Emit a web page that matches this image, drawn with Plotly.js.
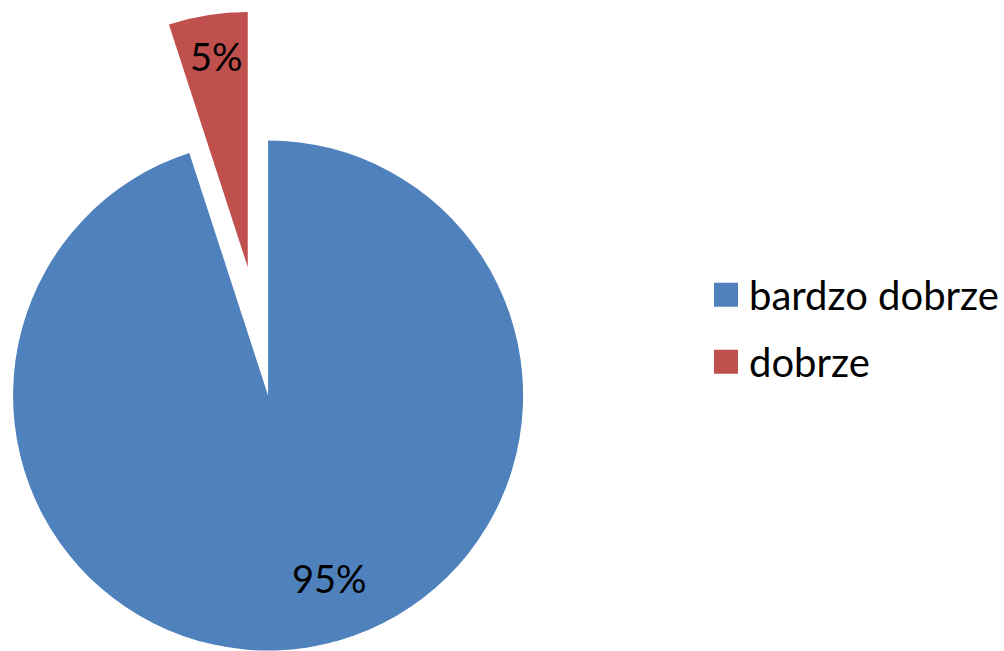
<!DOCTYPE html>
<html>
<head>
<meta charset="utf-8">
<script src="https://cdn.plot.ly/plotly-3.0.1.min.js"></script>
<style>
  html, body { margin: 0; padding: 0; background: #ffffff; overflow: hidden; width: 1004px; height: 651px; }
  #chart { position: absolute; left: -117px; top: 8px; }
</style>
</head>
<body>
<div id="chart"></div>
<script>
// Data
const categories = ["bardzo dobrze", "dobrze"];
const values = [95, 5];
const colors = ["#4F81BD", "#C0504D"];
const pulls = [0, 0.51];

const FIG_W = 1121, FIG_H = 775;
const FONT = "Lato, 'Open Sans', sans-serif";

const total = values.reduce((a, b) => a + b, 0);
const pctText = values.map(v => Math.round(v / total * 100) + "%");

const trace = {
  type: "pie",
  labels: categories,
  values: values,
  sort: false,
  direction: "clockwise",
  rotation: 0,
  pull: pulls,
  marker: { colors: colors, line: { width: 0 } },
  textinfo: "none",
  domain: { x: [0, FIG_H / FIG_W], y: [0, 1] },
  hoverinfo: "label+percent"
};

// label anchor points (paper coords) for each slice's percentage
const labelX = [0.4005, 0.2990];
const labelY = [0.2645, 0.9385];

const layout = {
  width: FIG_W,
  height: FIG_H,
  margin: { l: 0, r: 0, t: 0, b: 0, pad: 0 },
  paper_bgcolor: "#ffffff",
  showlegend: true,
  legend: {
    x: 0.7415, y: 0.5945, xanchor: "left", yanchor: "middle",
    font: { family: FONT, size: 40, color: "#000000" },
    bgcolor: "rgba(0,0,0,0)"
  },
  annotations: pctText.map((t, i) => ({
    xref: "paper", yref: "paper", x: labelX[i], y: labelY[i],
    xanchor: "center", yanchor: "middle", showarrow: false,
    text: t, font: { family: FONT, size: 38, color: "#000000" }
  }))
};

Plotly.newPlot("chart", [trace], layout, { displayModeBar: false, staticPlot: true }).then(gd => {
  const re = /translate\(\s*([-\d.e]+)[ ,]\s*([-\d.e]+)\s*\)/;
  gd.querySelectorAll(".legend .traces").forEach((g, i) => {
    const m = re.exec(g.getAttribute("transform") || "");
    if (m && i > 0) g.setAttribute("transform", "translate(" + m[1] + "," + (parseFloat(m[2]) + 12 * i) + ")");
  });
  gd.querySelectorAll(".legend .legendpoints path").forEach(p => {
    const m = re.exec(p.getAttribute("transform") || "");
    const x = m ? parseFloat(m[1]) : 0, y = m ? parseFloat(m[2]) : 0;
    p.setAttribute("transform", "translate(" + (x - 3) + "," + y + ") scale(2)");
  });
});
</script>
</body>
</html>
